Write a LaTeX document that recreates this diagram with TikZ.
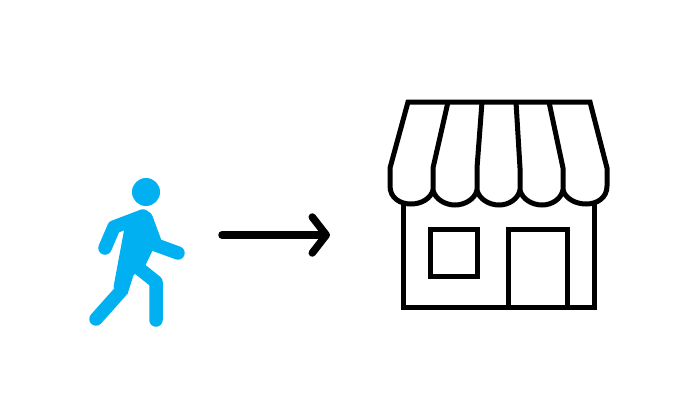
\documentclass[tikz,border=0pt]{standalone}
\usetikzlibrary{calc, positioning, arrows.meta}
\definecolor{walkerblue}{RGB}{0,176,240}

\begin{document}
\begin{tikzpicture}[x=1pt,y=-1pt,
  limb/.style={walkerblue, line width=13.5pt, line cap=round, line join=round},
  body/.style={fill=walkerblue, draw=walkerblue, line width=1pt, line join=round},
  shop/.style={black, line width=5pt, line join=miter, line cap=butt},
  go/.style={-{Straight Barb[round, length=14pt, width=36pt, line width=7.5pt]}, line width=7.5pt, line cap=round}]
  \useasboundingbox (0,0) rectangle (688,410);

  \fill[walkerblue] (146,192) circle (14);
  \filldraw[body] (125,228) -- (142,210) -- (150,214) -- (157,240) -- (145,265) -- (133,275) -- (127,294) -- (114,287) -- cycle;
  \draw[limb] (105,248) -- (114,227) -- (143,216);
  \draw[limb] (146,218) -- (156,245) -- (178,253);
  \draw[limb] (96,319) -- (121,291) -- (127,262);
  \draw[limb] (136,266) -- (156,282) -- (156,320);

  \coordinate (a1) at (222,235);
  \coordinate (b1) at (330,235);
  \draw[go] (a1) -- (b1);

  \draw[shop] (433,190) .. controls (431,198) and (422,204) .. (411,204) .. controls (400,204) and (390,198) .. (390,186) -- (390,168) -- (408,102) -- (590,102) -- (607,168) -- (607,186) .. controls (607,198) and (597,204) .. (586,204) .. controls (575,204) and (565,198) .. (563,190);
  \draw[shop] (448,102) -- (433,168) -- (433,190) .. controls (435,199) and (445,205) .. (455,205) .. controls (465,205) and (475,199) .. (477,190);
  \draw[shop] (482,102) -- (477,168) -- (477,190) .. controls (479,199) and (489,205) .. (499,205) .. controls (509,205) and (518,199) .. (520,190);
  \draw[shop] (516,102) -- (520,168) -- (520,190) .. controls (522,199) and (532,205) .. (542,205) .. controls (552,205) and (561,199) .. (563,190);
  \draw[shop] (549,102) -- (563,168) -- (563,190);

  \draw[shop] (403,204) -- (403,307) -- (594,307) -- (594,204);
  \draw[shop] (430,229) rectangle (477,276);
  \draw[shop] (508,307) -- (508,229) -- (567,229) -- (567,307);
\end{tikzpicture}
\end{document}
